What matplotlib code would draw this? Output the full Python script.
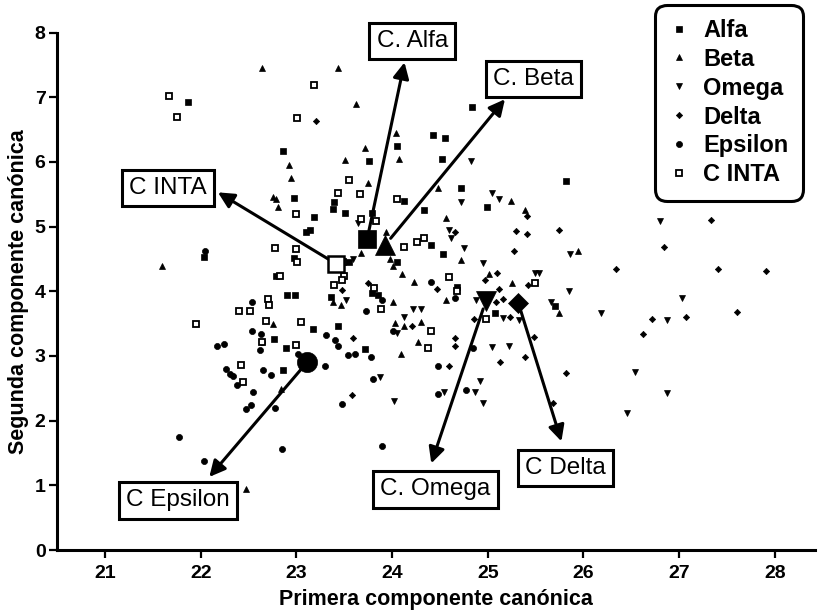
import matplotlib.pyplot as plt

plt.rcParams['font.family'] = ['Liberation Sans', 'DejaVu Sans']

grupos = ['Alfa', 'Beta', 'Omega', 'Delta', 'Epsilon', 'C INTA']

# puntajes canonicos por individuo
alfa_x = [21.87, 22.86, 22.97, 23.18, 23.14, 23.10, 22.03, 22.97, 22.79, 22.90,
          22.99, 23.17, 22.77, 22.89, 22.86, 24.05, 23.76, 24.43, 24.55, 24.52,
          24.84, 23.39, 23.38, 24.12, 24.72, 24.99, 24.33, 23.51, 23.79, 24.41,
          24.53, 23.55, 24.05, 24.68, 23.36, 23.79, 23.85, 25.08, 23.43, 23.72,
          25.82, 25.70]
alfa_y = [6.92, 6.17, 5.45, 5.15, 4.95, 4.92, 4.53, 4.52, 4.23, 3.94,
          3.94, 3.41, 3.27, 3.13, 2.79, 6.24, 6.01, 6.42, 6.37, 6.05,
          6.85, 5.38, 5.27, 5.39, 5.59, 5.30, 5.26, 5.21, 5.21, 4.71,
          4.57, 4.45, 4.46, 4.07, 3.91, 3.97, 3.94, 3.67, 3.47, 3.11,
          5.70, 3.78]

beta_x = [22.64, 22.92, 22.94, 22.76, 22.79, 22.81, 21.60, 22.76, 22.84, 22.47,
          23.43, 23.62, 24.04, 23.72, 24.07, 23.51, 23.75, 24.48, 25.24, 25.39,
          24.56, 23.94, 23.68, 24.72, 23.98, 24.01, 24.10, 24.56, 24.23, 23.38,
          23.47, 24.01, 25.01, 25.25, 24.03, 24.13, 24.30, 24.27, 24.09, 25.94,
          25.74]
beta_y = [7.45, 5.96, 5.75, 5.46, 5.42, 5.31, 4.39, 3.50, 2.49, 0.94,
          7.46, 6.89, 6.44, 6.22, 6.05, 6.03, 5.67, 5.60, 5.39, 5.25,
          5.13, 4.91, 4.60, 4.48, 4.50, 4.39, 4.27, 3.86, 4.14, 3.83,
          3.79, 3.84, 4.26, 4.13, 3.51, 3.46, 3.52, 3.22, 3.03, 4.62,
          3.67]

omega_x = [24.82, 24.72, 25.04, 25.12, 23.64, 24.59, 24.62, 24.75, 23.59, 24.95,
           23.52, 25.49, 24.88, 25.16, 25.33, 24.22, 24.30, 24.12, 24.05, 25.04,
           25.22, 23.87, 24.02, 24.54, 24.92, 24.87, 24.95, 26.80, 25.86, 25.54,
           25.85, 27.03, 25.66, 26.18, 26.87, 26.54, 26.87, 26.46]
omega_y = [6.02, 5.38, 5.52, 5.42, 5.05, 4.95, 4.83, 4.67, 4.50, 4.44,
           3.86, 4.29, 3.87, 3.59, 3.56, 3.72, 3.72, 3.60, 3.36, 3.14,
           3.16, 2.67, 2.30, 2.44, 2.61, 2.44, 2.27, 5.08, 4.57, 4.29,
           4.00, 3.90, 3.83, 3.67, 3.56, 2.76, 2.43, 2.12]

delta_x = [23.21, 24.66, 25.30, 25.41, 25.27, 23.48, 24.47, 23.75, 25.10, 24.97,
           25.42, 25.12, 25.16, 25.09, 24.86, 25.23, 24.21, 23.59, 24.66, 24.66,
           25.13, 25.39, 24.60, 23.58, 25.48, 25.41, 25.74, 27.33, 26.84, 26.34,
           27.41, 27.91, 27.61, 26.72, 27.07, 26.62, 25.82, 25.68]
delta_y = [6.64, 4.91, 4.94, 4.89, 4.63, 4.02, 4.04, 4.13, 4.28, 4.18,
           4.09, 4.04, 3.88, 3.83, 3.57, 3.61, 3.46, 3.28, 3.28, 3.16,
           2.91, 2.99, 2.84, 2.39, 3.30, 5.17, 4.95, 5.11, 4.69, 4.35,
           4.35, 4.31, 3.68, 3.57, 3.60, 3.34, 2.74, 2.27]

epsilon_x = [22.04, 22.54, 22.54, 22.63, 22.64, 22.62, 22.17, 22.24, 23.31, 23.02,
             23.30, 22.26, 22.31, 22.34, 22.65, 22.74, 22.38, 22.55, 22.53, 22.47,
             22.78, 21.77, 22.85, 22.03, 24.66, 24.41, 23.89, 23.73, 24.01, 23.40,
             23.43, 23.54, 23.61, 23.78, 24.85, 24.48, 23.80, 23.48, 24.48, 24.77,
             23.90]
epsilon_y = [4.63, 3.84, 3.39, 3.34, 3.22, 3.09, 3.16, 3.19, 3.32, 3.03,
             2.84, 2.80, 2.72, 2.69, 2.79, 2.70, 2.55, 2.44, 2.24, 2.18,
             2.19, 1.75, 1.56, 1.37, 3.89, 4.14, 3.87, 3.70, 3.39, 3.24,
             3.16, 3.01, 3.03, 2.98, 3.12, 2.85, 2.65, 2.26, 2.41, 2.47,
             1.61]

inta_x = [23.18, 21.67, 21.75, 23.01, 23.00, 22.78, 23.00, 23.01, 22.83, 22.70,
          22.71, 22.40, 22.52, 22.68, 23.05, 21.95, 22.64, 23.00, 22.42, 22.44,
          23.55, 23.44, 23.67, 24.05, 23.68, 23.83, 24.12, 24.26, 24.33, 23.40,
          23.49, 23.50, 23.48, 24.60, 24.68, 23.39, 23.81, 23.88, 24.41, 24.38,
          24.98, 25.49]
inta_y = [7.19, 7.02, 6.70, 6.68, 5.20, 4.67, 4.66, 4.45, 4.23, 3.88,
          3.79, 3.69, 3.69, 3.54, 3.53, 3.50, 3.22, 3.17, 2.86, 2.60,
          5.72, 5.52, 5.51, 5.42, 5.12, 5.09, 4.69, 4.76, 4.83, 4.41,
          4.45, 4.23, 4.17, 4.22, 4.00, 4.09, 4.05, 3.72, 3.39, 3.12,
          3.57, 4.13]

# centroides de cada grupo
centro_x = [23.74, 23.93, 24.98, 25.32, 23.11, 23.41]
centro_y = [4.81, 4.72, 3.85, 3.82, 2.90, 4.43]

etiquetas = ['C. Alfa', 'C. Beta', 'C. Omega', 'C Delta', 'C Epsilon', 'C INTA']
caja_x = [24.21, 25.48, 24.45, 25.81, 21.76, 21.66]
caja_y = [7.87, 7.28, 0.94, 1.27, 0.77, 5.60]
punta_x = [24.13, 25.18, 24.41, 25.77, 22.09, 22.18]
punta_y = [7.54, 6.97, 1.34, 1.68, 1.13, 5.53]

datos_x = [alfa_x, beta_x, omega_x, delta_x, epsilon_x, inta_x]
datos_y = [alfa_y, beta_y, omega_y, delta_y, epsilon_y, inta_y]
marcas = ['s', '^', 'v', 'D', 'o', 's']
tam = [4.3, 4.6, 4.6, 3.2, 4.4, 4.3]
tam_c = [13.5, 14, 15, 10, 14.5, 12]

fig = plt.figure(figsize=(8.18, 6.14), dpi=100)
ax = fig.add_axes([0.0693, 0.1042, 0.927, 0.8427])

handles = []
for i in range(len(grupos)):
    abierto = grupos[i] == 'C INTA'
    fc = 'white' if abierto else 'black'
    mew = 1.3 if abierto else 0.5
    h, = ax.plot(datos_x[i], datos_y[i], ls='none', marker=marcas[i], ms=tam[i],
                 mfc=fc, mec='black', mew=mew, zorder=3)
    handles.append(h)
    ax.plot(centro_x[i], centro_y[i], ls='none', marker=marcas[i], ms=tam_c[i],
            mfc=fc, mec='black', mew=1.8 if abierto else 0.5, zorder=5)

for i in range(len(etiquetas)):
    ax.annotate('', xy=(punta_x[i], punta_y[i]), xytext=(centro_x[i], centro_y[i]),
                arrowprops=dict(arrowstyle='-|>,head_length=0.6,head_width=0.3',
                                mutation_scale=16, lw=2.2, color='black',
                                shrinkA=6, shrinkB=0), zorder=4)
    ax.text(caja_x[i], caja_y[i], etiquetas[i], ha='center', va='center', fontsize=17.5,
            bbox=dict(boxstyle='square,pad=0.3', fc='white', ec='black', lw=2.2), zorder=6)

ax.set_xlim(20.495, 28.42)
ax.set_ylim(0, 8)
ax.set_xticks(range(21, 29))
ax.set_yticks(range(0, 9))
for s in ['top', 'right']:
    ax.spines[s].set_visible(False)
for s in ['left', 'bottom']:
    ax.spines[s].set_linewidth(2.2)
ax.tick_params(axis='both', width=1.6, length=5.5, labelsize=14)
ax.tick_params(axis='x', pad=5.5)
ax.tick_params(axis='y', pad=2.5)
for lab in ax.get_xticklabels() + ax.get_yticklabels():
    lab.set_fontweight('bold')

ax.set_xlabel('Primera componente canónica', fontsize=15.5, fontweight='bold', labelpad=5)
ax.set_ylabel('Segunda componente canónica', fontsize=15.5, fontweight='bold', labelpad=4)

leg = ax.legend(handles, grupos, loc='upper right', bbox_to_anchor=(0.984, 1.054),
                borderaxespad=0, prop={'weight': 'bold', 'size': 17}, labelspacing=0.25,
                handlelength=0.8, handletextpad=0.63, borderpad=0.6,
                fancybox=True, framealpha=1, edgecolor='black')
leg.get_frame().set_linewidth(2.2)
leg.get_frame().set_boxstyle('round,pad=0,rounding_size=0.5')
leg.set_zorder(7)

fig.savefig('out.png', dpi=100)
